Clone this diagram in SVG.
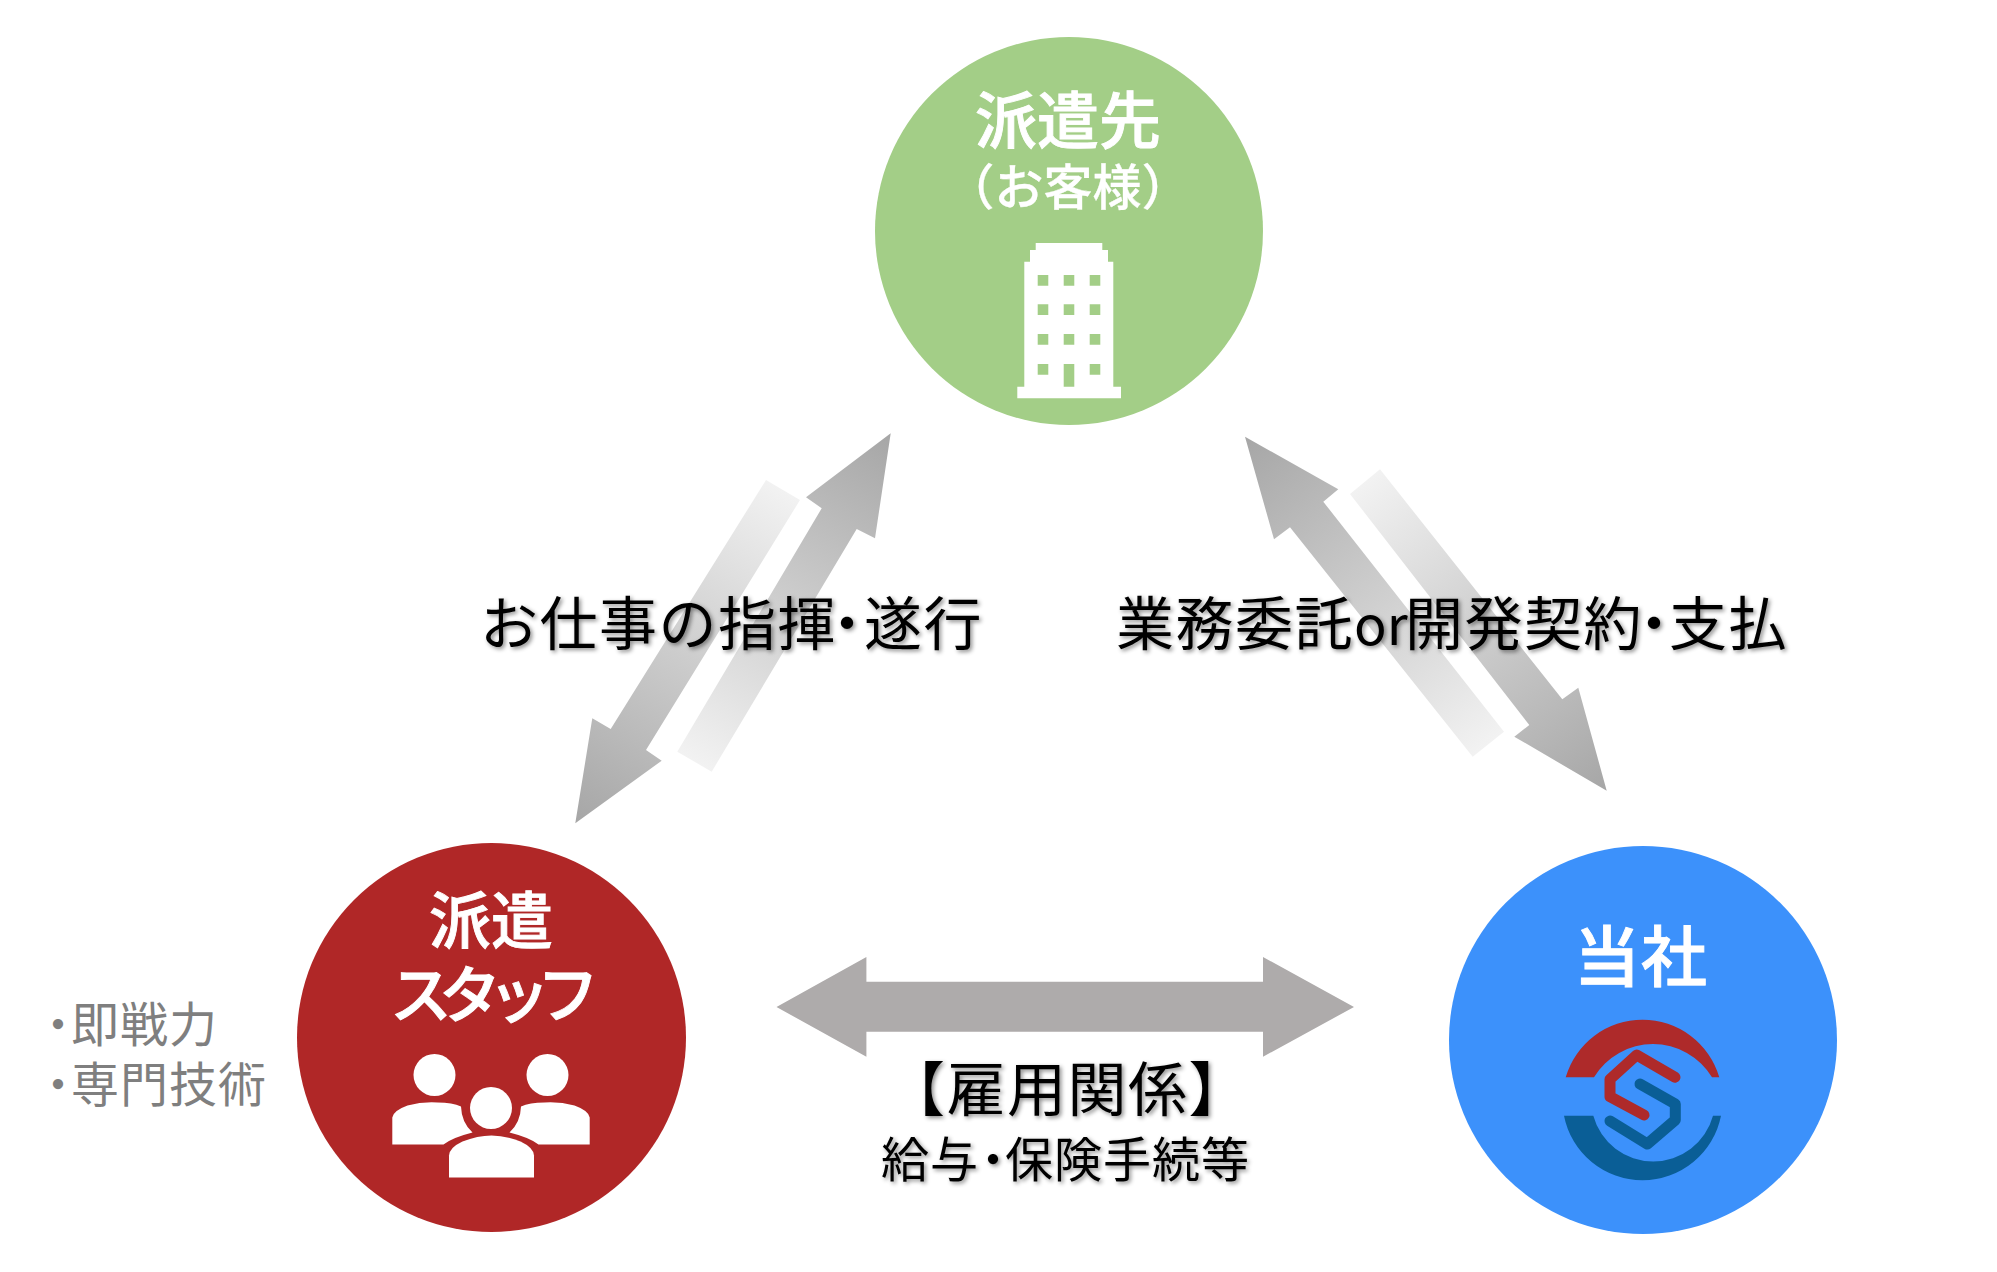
<svg xmlns="http://www.w3.org/2000/svg" width="1997" height="1272" viewBox="0 0 1997 1272">
<defs>
<style>
text{font-family:"Noto Sans CJK JP","Noto Sans CJK SC",sans-serif}
.lbl{fill:#000;font-size:58px;letter-spacing:1.5px;filter:url(#sh)}
.sub{fill:#000;font-size:48px;letter-spacing:1px;filter:url(#sh)}
.wh{fill:#fff;stroke:#fff;stroke-width:.9px;font-weight:500;font-size:62px;text-anchor:middle}
.gr{fill:#7f7f7f;font-size:48px;letter-spacing:1px}
.ic{fill:#fff}
</style>
<filter id="sh" x="-5%" y="-20%" width="110%" height="140%"><feDropShadow dx="2" dy="2" stdDeviation="2" flood-color="#000" flood-opacity=".45"/></filter>
<linearGradient id="gA" gradientUnits="userSpaceOnUse" x1="890" y1="433" x2="695" y2="762"><stop offset="0" stop-color="#a6a6a6"/><stop offset="1" stop-color="#f2f2f2"/></linearGradient>
<linearGradient id="gB" gradientUnits="userSpaceOnUse" x1="575" y1="823" x2="783" y2="490"><stop offset="0" stop-color="#a6a6a6"/><stop offset="1" stop-color="#f2f2f2"/></linearGradient>
<linearGradient id="gC" gradientUnits="userSpaceOnUse" x1="1245" y1="437" x2="1488" y2="744"><stop offset="0" stop-color="#a6a6a6"/><stop offset="1" stop-color="#f2f2f2"/></linearGradient>
<linearGradient id="gD" gradientUnits="userSpaceOnUse" x1="1607" y1="791" x2="1365" y2="482"><stop offset="0" stop-color="#a6a6a6"/><stop offset="1" stop-color="#f2f2f2"/></linearGradient>
</defs>
<rect width="1997" height="1272" fill="#fff"/>
<g id="connectors">
<polygon fill="url(#gA)" points="890.7,433.3 806,497.3 821.7,508.3 677.3,751.7 711.7,771.7 856.7,529 875,538.3"/>
<polygon fill="url(#gB)" points="575.3,823.3 592.3,718.3 610.7,729 766,480 800,500 646,750 661.7,760.7"/>
<polygon fill="url(#gC)" points="1245,436.7 1338.3,489.3 1323.3,501.7 1504,731.7 1472.7,756.7 1290,527.3 1274,539.3"/>
<polygon fill="url(#gD)" points="1606.7,790.7 1578.3,687.7 1562.3,699.3 1380,469.3 1350,494 1529.3,725 1514.3,736.7"/>
<polygon fill="#aeabab" points="776.5,1007 866.4,957 866.4,981.7 1263,981.7 1263,957 1354,1007 1263,1056.7 1263,1031.7 866.4,1031.7 866.4,1056.7"/>
</g>
<g id="client">
<circle cx="1069" cy="231" r="194" fill="#a3ce87"/>
<text class="wh" x="1068" y="144">派遣先</text>
<text class="wh" x="1068" y="205" style="font-size:49px;stroke-width:.3px">（お客様）</text>
<path class="ic" fill-rule="evenodd" d="M1035.7 243H1102.3V250H1108V261.7H1113.3V386.7H1121V398.3H1017.3V386.7H1024.3V261.7H1030V250H1035.7ZM1037.7 275V285.7H1048.3V275ZM1063.7 275V285.7H1074.3V275ZM1089.7 275V285.7H1100.3V275ZM1037.7 304.3V315H1048.3V304.3ZM1063.7 304.3V315H1074.3V304.3ZM1089.7 304.3V315H1100.3V304.3ZM1037.7 334V344.7H1048.3V334ZM1063.7 334V344.7H1074.3V334ZM1089.7 334V344.7H1100.3V334ZM1037.7 364V374.7H1048.3V364ZM1063.7 364V386.7H1074.3V364ZM1089.7 364V374.7H1100.3V364Z"/>
</g>
<g id="staff">
<circle cx="491.5" cy="1037.5" r="194.5" fill="#b02727"/>
<text class="wh" x="491" y="944">派遣</text>
<text class="wh" x="488" y="1018" style="letter-spacing:-13px">スタッフ</text>
<g transform="translate(-2.5 -2.5)">
<ellipse class="ic" cx="437" cy="1077.5" rx="21" ry="21"/>
<ellipse class="ic" cx="550" cy="1077.5" rx="21" ry="21"/>
<ellipse class="ic" cx="493.5" cy="1110.5" rx="21" ry="21"/>
<path class="ic" d="M394.8 1147V1120Q396 1113 410 1108Q425 1104 440 1105Q455 1105 463.5 1109Q464 1125 475 1135Q455 1140 446 1147Z"/>
<path class="ic" d="M592.2 1147V1120Q591 1113 577 1108Q562 1104 547 1105Q532 1105 523.5 1109Q523 1125 512 1135Q532 1140 541 1147Z"/>
<path class="ic" d="M451.5 1180V1158Q452 1150 465 1144Q480 1138 494 1138Q508 1138 523 1144Q536 1150 536.5 1158V1180Z"/>
</g>
</g>
<g id="company">
<circle cx="1643" cy="1040" r="194" fill="#3c91fb"/>
<text class="wh" x="1641" y="981" style="font-size:66px;letter-spacing:1px">当社</text>
<path fill="#ae2a2a" d="M1565.7 1077.3A80 80 0 0 1 1719.3 1077.3H1712A69 69 0 0 0 1594 1077.3Z"/>
<path fill="#0a5e96" d="M1564 1115.7A80 80 0 0 0 1721 1115.7H1713A62 62 0 0 1 1593.3 1115.7Z"/>
<polyline fill="none" stroke="#ae2a2a" stroke-width="11" stroke-linecap="round" stroke-linejoin="round" points="1675,1077.3 1636.7,1055 1610,1079.3 1610,1096.7 1644,1115"/>
<polyline fill="none" stroke="#0a5e96" stroke-width="11" stroke-linecap="round" stroke-linejoin="round" points="1640,1084 1675.3,1104 1675.3,1120 1647.3,1144 1610,1121"/>
</g>
<g id="labels">
<text class="lbl" y="645"><tspan x="480">お仕事の指揮</tspan><tspan x="818">・</tspan><tspan x="864">遂行</tspan></text>
<text class="lbl" y="645"><tspan x="1116">業務委託</tspan><tspan x="1354" style="font-size:54px;letter-spacing:0">or</tspan><tspan x="1405">開発契約</tspan><tspan x="1625">・</tspan><tspan x="1669">支払</tspan></text>
<text class="lbl" y="1111" style="font-size:59px"><tspan x="886">【雇用関係】</tspan></text>
<text class="sub" y="1177"><tspan x="881">給与</tspan><tspan x="969">・</tspan><tspan x="1005">保険手続等</tspan></text>
<text class="gr" y="1042"><tspan x="34">・</tspan><tspan x="71">即戦力</tspan></text>
<text class="gr" y="1102"><tspan x="34">・</tspan><tspan x="71">専門技術</tspan></text>
</g>
</svg>
